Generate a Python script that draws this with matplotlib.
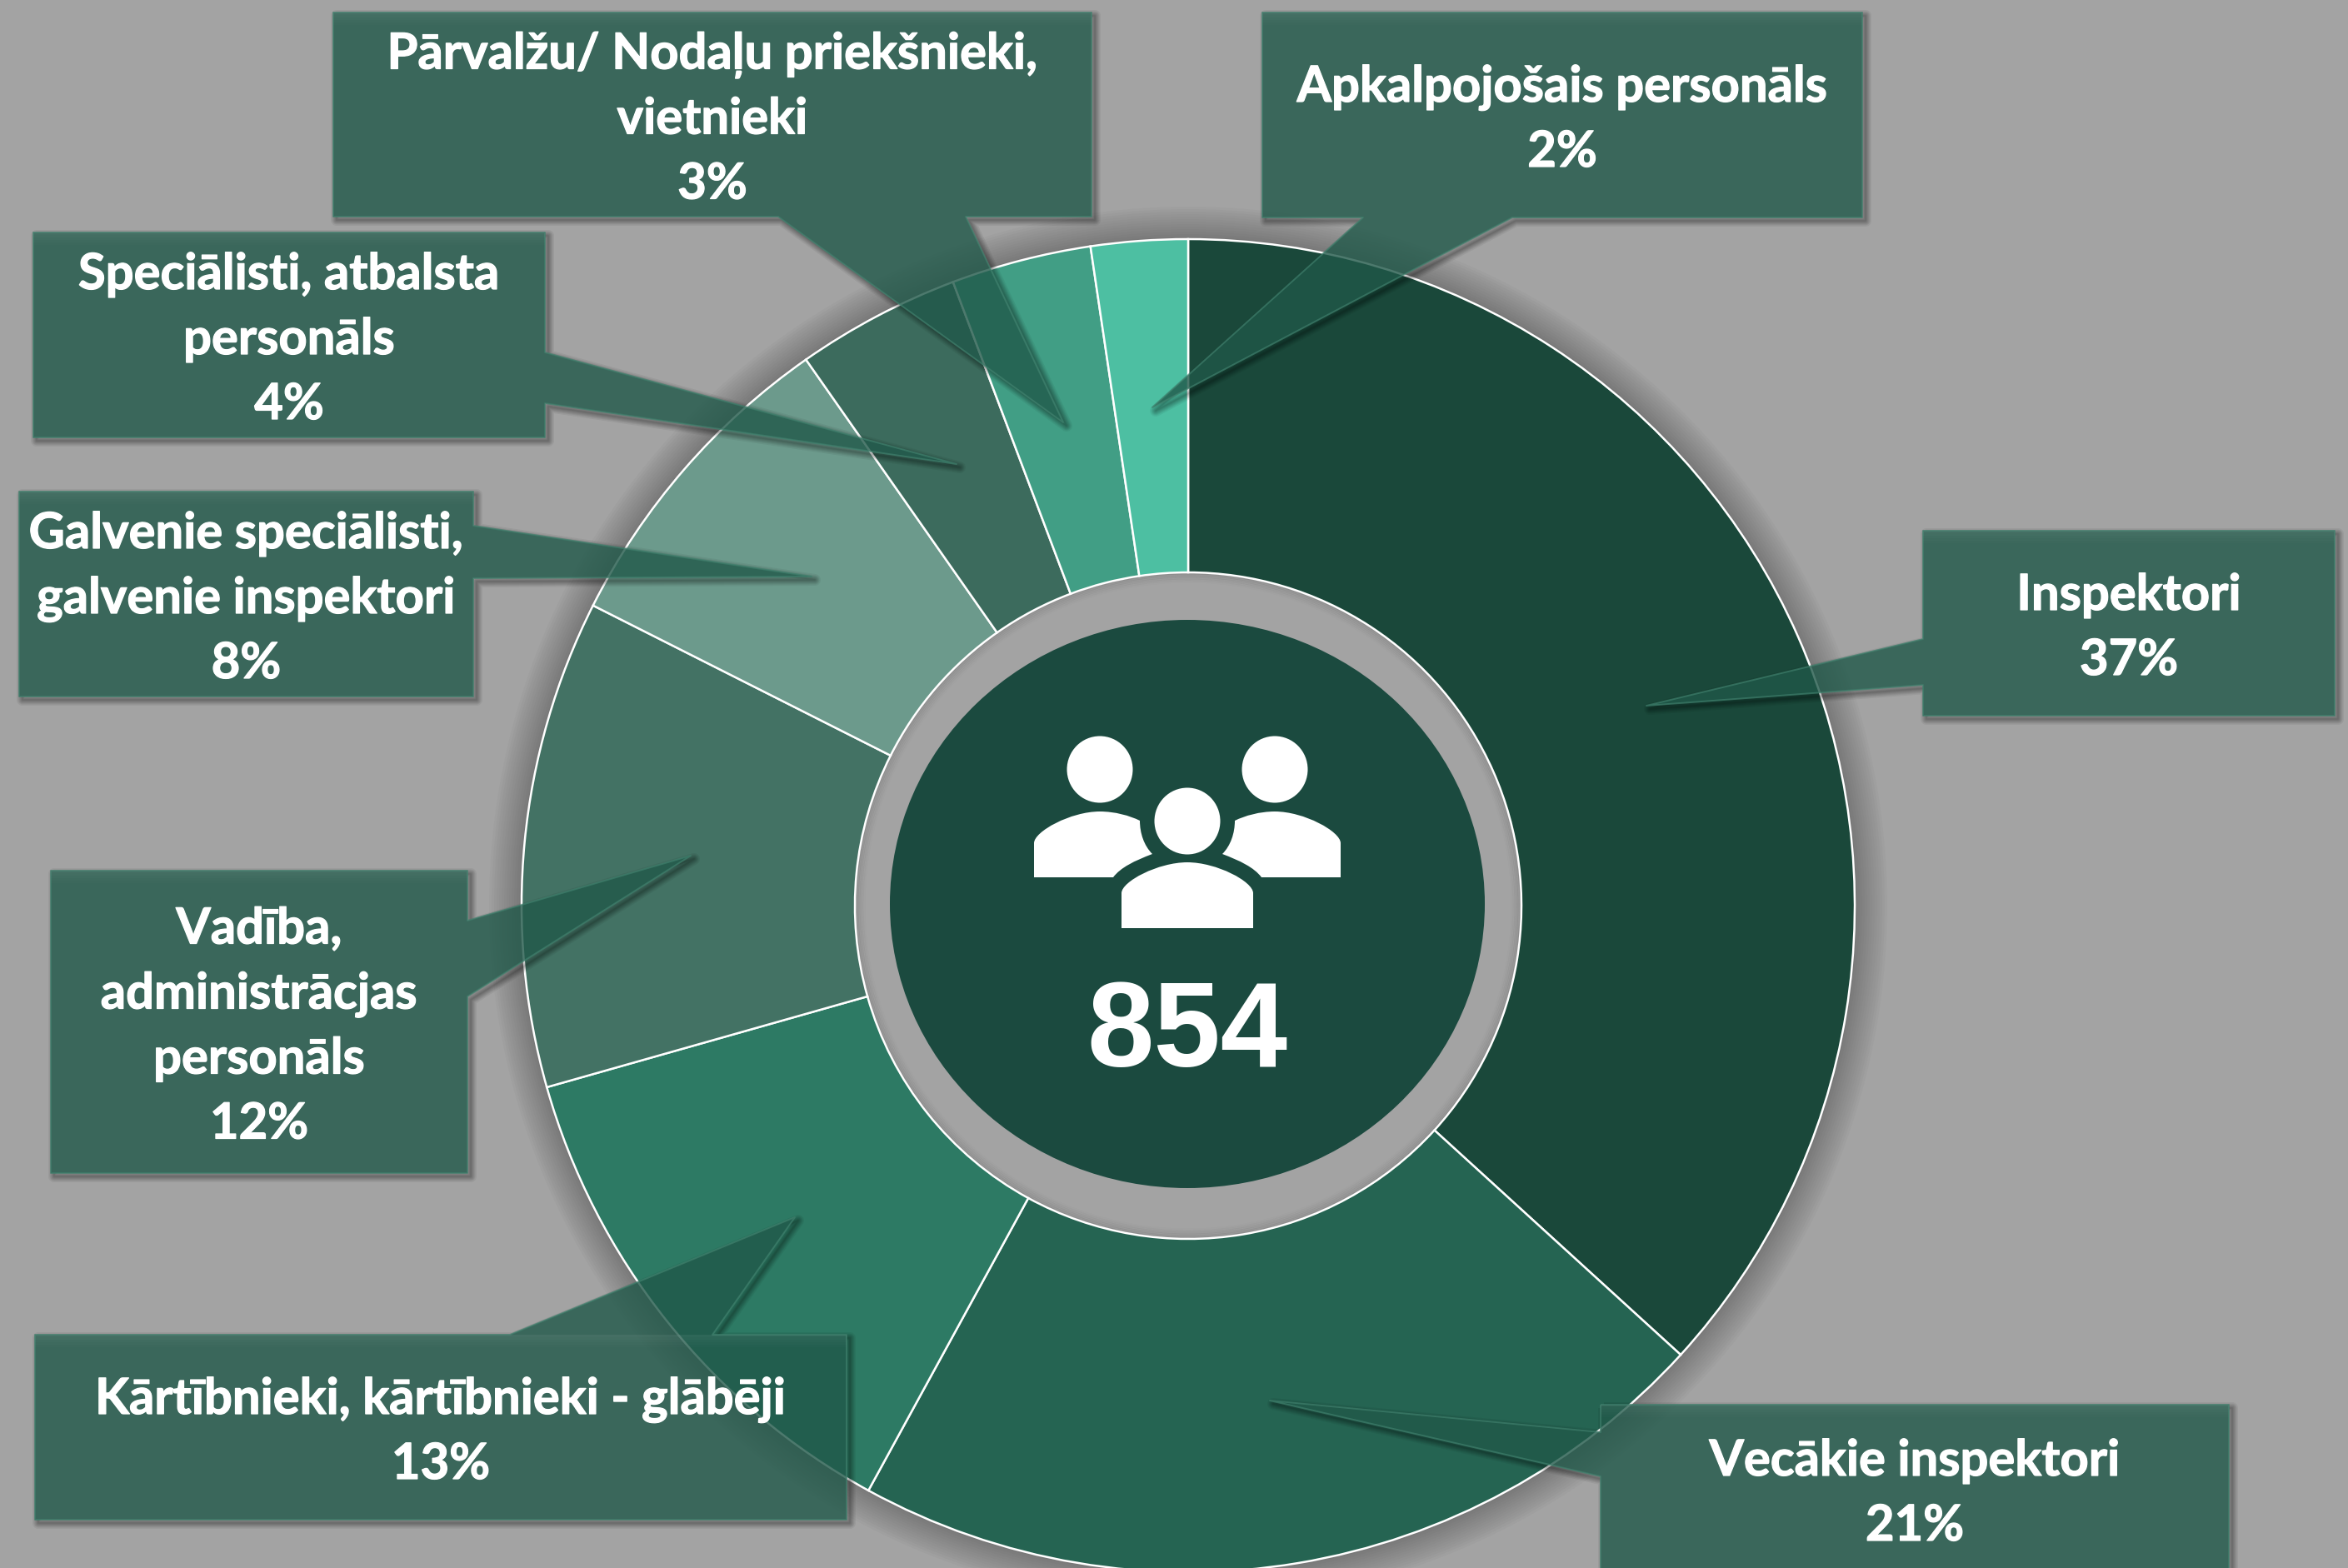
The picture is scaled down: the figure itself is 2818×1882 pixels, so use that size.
import numpy as np
import matplotlib
matplotlib.use("Agg")
import matplotlib.pyplot as plt
import matplotlib.patheffects as pe
from matplotlib.patches import Polygon, Circle, Ellipse, PathPatch, Rectangle
from matplotlib.path import Path

# darbinieku skaits pa grupam (pulkstenraditaja virziena no augsas)
labels = [["Inspektori"],
          ["Vecākie inspektori"],
          ["Kārtībnieki, kārtībnieki - glābēji"],
          ["Vadība,", "administrācjas", "personāls"],
          ["Galvenie speciālisti,", "galvenie inspektori"],
          ["Speciālisti, atbalsta", "personāls"],
          ["Pārvalžu/ Nodaļu priekšnieki,", "vietnieki"],
          ["Apkalpojošais personāls"]]
counts = [314, 181, 108, 101, 67, 34, 29, 20]
percents = ["37%", "21%", "13%", "12%", "8%", "4%", "3%", "2%"]
total_text = "854"
wedge_colors = ["#1a483a", "#256452", "#2d7a64", "#437264", "#6c9a8c", "#3c6b5d", "#419e85", "#4dbfa2"]

BG = "#a3a3a3"
W, H = 2818, 1882
CX, CY = 1425, 1085
PIE_C = (1426, 1087)
FONT = ["Lato", "Noto Sans", "DejaVu Sans"]

# kastes: x0, y0, x1, y1, puse, pamats1, pamats2, gals
boxes = [
    (2308, 637, 2802, 859, "left", 822, 767, (1976, 847)),
    (1921, 1686, 2675, 1900, "left", 1772, 1719, (1524, 1681)),
    (42, 1602, 1016, 1824, "top", 612, 855, (954, 1461)),
    (61, 1045, 561, 1408, "right", 1105, 1196, (829, 1027)),
    (23, 590, 568, 836, "right", 631, 694, (974, 692)),
    (40, 279, 654, 525, "right", 423, 484, (1148, 557)),
    (400, 15, 1310, 260, "bottom", 1159, 934, (1276, 507)),
    (1515, 15, 2235, 261, "bottom", 1815, 1636, (1383, 489)),
]


def callout_points(x0, y0, x1, y1, side, b1, b2, tip):
    pts = [(x0, y0)]
    if side == "top":
        pts += [(b1, y0), tip, (b2, y0)]
    pts += [(x1, y0)]
    if side == "right":
        pts += [(x1, b1), tip, (x1, b2)]
    pts += [(x1, y1)]
    if side == "bottom":
        pts += [(b1, y1), tip, (b2, y1)]
    pts += [(x0, y1)]
    if side == "left":
        pts += [(x0, b1), tip, (x0, b2)]
    return np.array(pts, dtype=float)


def draw_callout(ax, pts, box):
    # ena tikai arpus formas, lai caurspidiga kaste netumst
    outer = np.array([(-50, -50), (-50, H + 50), (W + 50, H + 50), (W + 50, -50), (-50, -50)], dtype=float)
    closed = np.vstack([pts, pts[0]])
    verts = np.vstack([outer, closed])
    codes = [Path.MOVETO] + [Path.LINETO] * 3 + [Path.CLOSEPOLY]
    codes += [Path.MOVETO] + [Path.LINETO] * (len(pts) - 1) + [Path.CLOSEPOLY]
    hole = Path(verts, codes)
    for lw in [14, 11, 9, 7, 5, 3, 1.5]:
        sh = Polygon(pts + 4, closed=True, fc="none", ec="black", lw=lw * 0.72, alpha=0.055, zorder=5, joinstyle="round")
        ax.add_patch(sh)
        sh.set_clip_path(hole, ax.transData)
    ax.add_patch(Polygon(pts, closed=True, fc="#205849", ec="none", alpha=0.8, zorder=6))
    ax.add_patch(Polygon(pts, closed=True, fc="none", ec="#3f7f6c", lw=1.4, alpha=0.7, zorder=6, joinstyle="round"))
    # gaisaka augsmala josla
    x0, y0, x1, y1 = box
    for i in range(5):
        ax.add_patch(Rectangle((x0, y0 + i * 3), x1 - x0, 3, fc="white", ec="none", alpha=0.012 * (5 - i), zorder=6))


def draw_icon(ax):
    for x, y in [(1320, 923.5), (1530, 923.5), (1425, 985.5)]:
        ax.add_patch(Ellipse((x, y), 79, 80, fc="white", ec="none", zorder=7))
    M, L, C, Z = Path.MOVETO, Path.LINETO, Path.CURVE4, Path.CLOSEPOLY
    # srodeja figura
    mid_v = [(1346, 1114), (1346, 1072), (1346, 1058), (1390, 1035), (1425, 1035),
             (1460, 1035), (1504, 1058), (1504, 1072), (1504, 1114), (1346, 1114)]
    mid_c = [M, L, C, C, C, C, C, C, L, Z]
    # kreisa figura, laba ir tas spogulattels
    left_v = [(1241, 1053), (1241, 1012), (1241, 998), (1285, 974), (1320, 974),
              (1338, 974), (1356, 979), (1368, 985), (1368, 1000), (1373, 1015), (1383, 1025),
              (1362, 1033), (1345, 1041), (1336, 1053), (1241, 1053)]
    left_c = [M, L, C, C, C, C, C, C, C, C, C, C, C, C, Z]
    right_v = [(2 * CX - x, y) for x, y in left_v]
    for v, c in [(mid_v, mid_c), (left_v, left_c), (right_v, left_c)]:
        ax.add_patch(PathPatch(Path(v, c), fc="white", ec="none", zorder=7))


fig = plt.figure(figsize=(W / 100, H / 100), dpi=100, facecolor=BG)
ax = fig.add_axes([0, 0, 1, 1])

# ena ap aplim
for i in range(14):
    ax.add_patch(Circle(PIE_C, 800 + i * 3, fc="black", ec="none", alpha=0.02, zorder=0))

ax.pie(counts, colors=wedge_colors, startangle=-90, counterclock=True, center=PIE_C, radius=800,
       wedgeprops=dict(width=400, edgecolor="white", linewidth=1.8, zorder=2))
ax.set_xlim(0, W)
ax.set_ylim(H, 0)
ax.axis("off")

# centra gredzens
ax.add_patch(Circle(PIE_C, 399, fc=BG, ec="none", zorder=1))
for i in range(6):
    ax.add_patch(Circle(PIE_C, 399 - i * 2, fc="none", ec="black", lw=2.2, alpha=0.012 * (6 - i), zorder=1))
ax.add_patch(Ellipse((CX, CY), 714, 682, fc="#1b4a3f", ec="none", zorder=3))
draw_icon(ax)
ax.text(CX, 1280, total_text, color="white", fontsize=104, fontweight="bold", family="Liberation Sans",
        ha="center", va="baseline", zorder=8)

for lab, pct, b in zip(labels, percents, boxes):
    draw_callout(ax, callout_points(*b), b[:4])
    x0, y0, x1, y1 = b[:4]
    lines = lab + [pct]
    mid = 1810 if y1 > H else (y0 + y1) / 2 + 23
    for i, line in enumerate(lines):
        ax.text((x0 + x1) / 2, mid + (i - (len(lines) - 1) / 2) * 78, line, color="white", fontsize=43,
                fontweight="bold", family=FONT, ha="center", va="baseline", zorder=9,
                path_effects=[pe.withStroke(linewidth=0.9, foreground="white")])

fig.savefig("out.png", dpi=100, facecolor=BG)
